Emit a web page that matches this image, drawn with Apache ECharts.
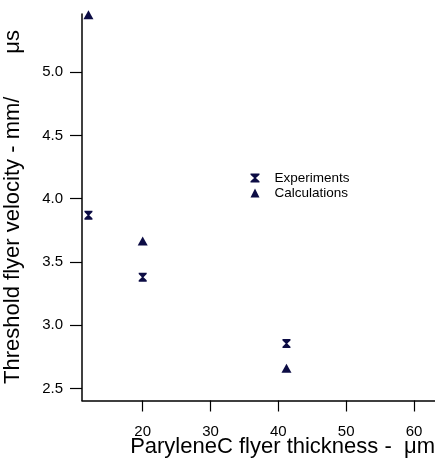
<!DOCTYPE html>
<html>
<head>
<meta charset="utf-8">
<script src="https://cdn.jsdelivr.net/npm/echarts@6/dist/echarts.min.js"></script>
<style>
  html, body { margin: 0; padding: 0; background: #fff; }
  #main { width: 435px; height: 458px; }
</style>
</head>
<body>
<div id="main"></div>
<script>
var thickness = [12, 20, 41.2];
var experiments = [3.87, 3.38, 2.855];
var calculations = [5.455, 3.665, 2.66];
var xTicks = [20, 30, 40, 50, 60];
var yTicks = [2.5, 3.0, 3.5, 4.0, 4.5, 5.0];

var navy = '#0c0c44';
var font = 'Liberation Sans, Arial, sans-serif';
var hourglass = 'path://M0,0H10V1.5L6,5L10,8.5V10H0V8.5L4,5L0,1.5Z';

function pairs(ys) {
    return thickness.map(function (x, i) { return [x, ys[i]]; });
}

var myChart = echarts.init(document.getElementById('main'));

var option = {
    backgroundColor: '#fff',
    animation: false,
    textStyle: { fontFamily: font },
    grid: { left: 82, right: 0, top: 14, bottom: 57.5 },
    legend: {
        orient: 'vertical',
        left: 250.5,
        top: 170.5,
        padding: 0,
        itemGap: 0,
        itemWidth: 9,
        itemHeight: 9,
        textStyle: { fontFamily: font, fontSize: 13.5, color: '#000', lineHeight: 15, padding: [0, 0, 0, 10] },
        data: [
            { name: 'Experiments', icon: hourglass },
            { name: 'Calculations', icon: 'triangle' }
        ]
    },
    xAxis: {
        type: 'value',
        min: 11.05,
        max: 63.1,
        splitLine: { show: false },
        axisLine: { lineStyle: { color: '#000', width: 1.5 } },
        axisTick: { show: true, length: 11, customValues: xTicks, lineStyle: { color: '#000', width: 1.2 } },
        axisLabel: { customValues: xTicks, margin: 24, fontSize: 15, color: '#000', fontFamily: font }
    },
    yAxis: {
        type: 'value',
        min: 2.405,
        max: 5.46,
        splitLine: { show: false },
        axisLine: { show: true, lineStyle: { color: '#000', width: 1.5 } },
        axisTick: { show: true, length: 12, customValues: yTicks, lineStyle: { color: '#000', width: 1.2 } },
        axisLabel: {
            customValues: yTicks, margin: 19, fontSize: 15, color: '#000', fontFamily: font,
            formatter: function (v) { return v.toFixed(1); }
        }
    },
    graphic: [
        {
            type: 'text',
            right: 0,
            top: 436,
            style: { text: 'ParyleneC flyer thickness -  \u03bcm', font: '22px ' + font, fill: '#000' }
        },
        {
            type: 'text',
            x: 13,
            y: 207,
            rotation: Math.PI / 2,
            style: {
                text: 'Threshold flyer velocity - mm/       \u03bcs',
                font: '22px ' + font, fill: '#000',
                align: 'center', verticalAlign: 'middle'
            }
        }
    ],
    series: [
        {
            name: 'Experiments',
            type: 'scatter',
            symbol: hourglass,
            symbolSize: [8, 9],
            itemStyle: { color: navy, opacity: 1 },
            data: pairs(experiments)
        },
        {
            name: 'Calculations',
            type: 'scatter',
            symbol: 'triangle',
            symbolSize: [10, 9],
            itemStyle: { color: navy, opacity: 1 },
            data: pairs(calculations)
        }
    ]
};

myChart.setOption(option);
</script>
</body>
</html>
